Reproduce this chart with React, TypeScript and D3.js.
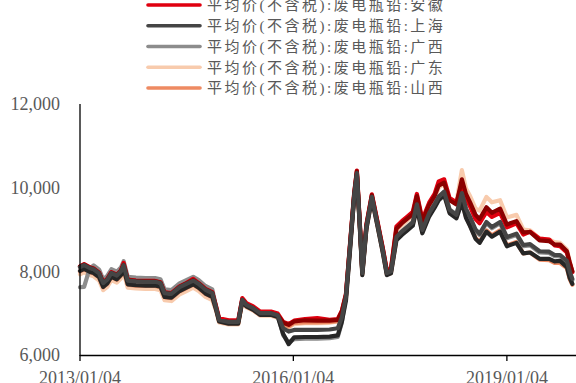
import React from "react";
import * as d3 from "d3";

const dates = [
  "2013-01-04","2013-01-25","2013-02-22","2013-03-15","2013-04-12","2013-05-03","2013-05-24","2013-06-14","2013-07-12","2013-08-02",
  "2013-08-16","2013-09-06","2013-10-18","2013-12-06","2014-01-24","2014-02-21","2014-03-14","2014-04-18","2014-05-30","2014-07-04",
  "2014-08-08","2014-09-05","2014-10-10","2014-11-14",
  "2014-12-05","2014-12-19","2015-02-06","2015-03-27","2015-04-17","2015-05-08","2015-06-12","2015-07-17","2015-09-11","2015-10-16",
  "2015-11-13","2015-12-11","2016-01-08","2016-03-04","2016-05-06","2016-07-08","2016-08-19",
  "2016-09-09","2016-09-30","2016-10-21","2016-11-11","2016-11-25","2016-12-09","2016-12-23","2017-01-13","2017-02-10","2017-03-10",
  "2017-04-07","2017-04-28","2017-05-19",
  "2017-06-16","2017-07-14","2017-08-11","2017-09-08","2017-09-29","2017-10-27","2017-12-01","2017-12-29","2018-01-19","2018-02-16",
  "2018-03-16","2018-04-20",
  "2018-05-18","2018-06-08","2018-06-29","2018-07-27","2018-08-17","2018-09-21","2018-10-19","2018-11-30","2019-01-04","2019-02-22",
  "2019-03-29","2019-05-03","2019-06-21","2019-08-09","2019-09-06","2019-10-04","2019-11-08","2019-11-22","2019-12-06",
];

const shanghai = [
  8100,8150,8080,8050,7950,7720,7800,7960,7900,8000,8150,7780,7760,7750,7750,7720,7480,7460,7620,7700,7780,7700,7560,7480,
  7100,6840,6790,6790,7320,7200,7120,7000,7000,6950,
  6640,6560,6600,6600,6600,6610,6640,
  6900,7400,8600,9800,10350,9200,7960,9060,9780,9150,8500,7960,8000,
  8820,8950,9060,9170,9600,8990,9390,9600,9780,9900,9470,9350,
  9870,9500,9300,9000,8900,9180,9060,9180,8820,8900,8630,8650,8480,8470,8390,8390,8250,8000,7820,
];
const henan = [
  8010,8060,7990,7960,7860,7630,7710,7870,7810,7910,8060,7690,7670,7660,7660,7630,7390,7370,7530,7610,7690,7610,7470,7390,
  7060,6800,6750,6750,7280,7160,7080,6960,6960,6910,
  6500,6260,6420,6430,6430,6440,6470,
  6800,7300,8500,9750,10300,9150,7910,9010,9730,9100,8450,7910,7950,
  8740,8870,8980,9090,9520,8910,9310,9520,9700,9820,9390,9270,
  9650,9280,9080,8780,8680,8950,8830,8950,8600,8680,8430,8450,8300,8300,8240,8250,8100,7850,7700,
];
const guangxi = [
  7620,7630,8060,8140,8040,7810,7890,8050,7990,8090,8240,7870,7850,7840,7840,7810,7570,7550,7710,7790,7870,7790,7650,7570,
  7120,6860,6810,6810,7340,7220,7140,7020,7020,6970,
  6470,6300,6380,6390,6390,6400,6430,
  6780,7400,8600,9800,10350,9200,7960,9060,9780,9150,8500,7960,8000,
  8830,8960,9070,9180,9610,9000,9400,9610,9790,9910,9480,9360,
  9840,9470,9270,8970,8870,9150,9030,9150,8790,8870,8600,8620,8450,8440,8360,8360,8220,7970,7790,
];
const anhui = [
  8120,8170,8100,8070,7970,7740,7820,7980,7920,8020,8200,7800,7780,7770,7770,7740,7500,7480,7640,7720,7820,7720,7580,7500,
  7140,6880,6830,6830,7360,7240,7160,7040,7040,6990,
  6790,6740,6820,6860,6880,6840,6860,
  7060,7460,8660,9860,10410,9260,8020,9120,9840,9210,8560,8020,8060,
  9070,9200,9310,9420,9850,9240,9640,9850,10150,10200,9750,9650,
  10100,9750,9550,9250,9150,9420,9300,9400,9050,9150,8880,8950,8780,8760,8620,8600,8450,8200,7980,
];
const jiangxi = [
  8110,8160,8090,8060,7960,7730,7810,7970,7910,8010,8160,7790,7770,7760,7760,7730,7490,7470,7630,7710,7790,7710,7570,7490,
  7100,6840,6790,6790,7320,7200,7120,7000,7000,6950,
  6770,6720,6800,6830,6820,6820,6840,
  7040,7440,8640,9840,10390,9240,8000,9100,9820,9190,8540,8000,8040,
  9020,9150,9260,9370,9800,9190,9590,9800,10050,10120,9700,9600,
  10200,9850,9650,9350,9250,9530,9400,9500,9120,9200,8930,8940,8740,8720,8640,8640,8480,8220,8000,
];
const guangdong = [
  7930,7980,7910,7880,7780,7550,7630,7790,7730,7830,7980,7610,7590,7580,7580,7550,7310,7290,7450,7530,7610,7530,7390,7310,
  7040,6780,6730,6730,7260,7140,7060,6940,6940,6890,
  6720,6660,6740,6760,6760,6770,6800,
  7020,7420,8620,9820,10370,9220,7980,9080,9800,9170,8520,7980,8020,
  8970,9100,9210,9320,9750,9140,9540,9750,10000,10100,9700,9650,
  10420,9980,9800,9500,9450,9780,9650,9700,9290,9350,9000,8980,8780,8760,8700,8680,8520,8250,8000,
];
const shanxi = [
  8000,8050,7980,7950,7850,7620,7700,7860,7800,7900,8050,7680,7660,7650,7650,7620,7380,7360,7520,7600,7680,7600,7460,7380,
  7060,6800,6750,6750,7280,7160,7080,6960,6960,6910,
  6740,6680,6770,6780,6780,6790,6810,
  6960,7360,8560,9760,10310,9160,7920,9020,9740,9110,8460,7920,7960,
  8770,8900,9010,9120,9550,8940,9340,9550,9730,9850,9420,9300,
  9700,9300,9100,8800,8700,8980,8860,8980,8620,8700,8430,8450,8280,8270,8200,8200,8080,7820,7680,
];

const legendNames = [
  "平均价(不含税):废电瓶铅:江西",
  "平均价(不含税):废电瓶铅:河南",
  "平均价(不含税):废电瓶铅:安徽",
  "平均价(不含税):废电瓶铅:上海",
  "平均价(不含税):废电瓶铅:广西",
  "平均价(不含税):废电瓶铅:广东",
  "平均价(不含税):废电瓶铅:山西",
];
const legendColors = ["#8B0000", "#262626", "#E0000F", "#454545", "#8C8C8C", "#F8CBAD", "#EE8A62"];
const seriesValues = [jiangxi, henan, anhui, shanghai, guangxi, guangdong, shanxi];
const drawOrder = [5, 6, 4, 2, 0, 1, 3];

const yTicks = [6000, 8000, 10000, 12000];
const xTickLabels = ["2013/01/04", "2016/01/04", "2019/01/04"];

export default function App() {
  const W = 576, H = 383;
  const parse = d3.timeParse("%Y-%m-%d");
  const parseTick = d3.timeParse("%Y/%m/%d");
  const dts = dates.map((d) => parse(d)!);
  const x = d3.scaleTime().domain([parse("2013-01-04")!, parse("2020-01-04")!]).range([80, 578]);
  const y = d3.scaleLinear().domain([6000, 12000]).range([355, 104]);
  const line = d3.line<number>()
    .x((_, i) => x(dts[i]))
    .y((v) => y(v))
    .curve(d3.curveLinear);
  const fmt = d3.format(",");
  const textColor = "#595959";
  const legendY0 = 5;
  const legendStep = 20.75;
  const hiddenCount = 2;

  return (
    <div style={{ position: "absolute", left: 0, top: 0 }}>
      <svg width={W} height={H} style={{ display: "block" }}>
        <rect width={W} height={H} fill="#fff" />
        {drawOrder.map((k) => (
          <path key={k} d={line(seriesValues[k]) || ""} fill="none" stroke={legendColors[k]}
            strokeWidth={4.2} strokeLinejoin="round" strokeLinecap="round" />
        ))}
        <line x1={80} x2={80} y1={104} y2={356} stroke="#000" strokeWidth={1.3} />
        <line x1={80} x2={576} y1={355.5} y2={355.5} stroke="#000" strokeWidth={1.3} />
        {xTickLabels.map((t) => {
          const xx = x(parseTick(t)!);
          return (
            <g key={t}>
              <line x1={xx} x2={xx} y1={355} y2={361} stroke="#000" strokeWidth={1.3} />
              <text x={xx} y={384} textAnchor="middle" fontFamily="'Liberation Serif', serif" fontSize={18} fill={textColor}>{t}</text>
            </g>
          );
        })}
        {yTicks.map((t) => (
          <text key={t} x={60} y={y(t)} dy="0.35em" textAnchor="end" fontFamily="'Liberation Serif', serif" fontSize={18} fill={textColor}>{fmt(t)}</text>
        ))}
        {legendNames.map((n, i) => {
          const ly = legendY0 + (i - hiddenCount) * legendStep;
          return (
            <g key={n}>
              <line x1={148} x2={200} y1={ly} y2={ly} stroke={legendColors[i]} strokeWidth={3.6} strokeLinecap="round" />
              <text x={207} y={ly} dy="0.36em" fontFamily="'Liberation Serif', 'Noto Sans CJK SC', serif" fontSize={15} letterSpacing={2.5} fill={textColor}>{n}</text>
            </g>
          );
        })}
      </svg>
    </div>
  );
}
